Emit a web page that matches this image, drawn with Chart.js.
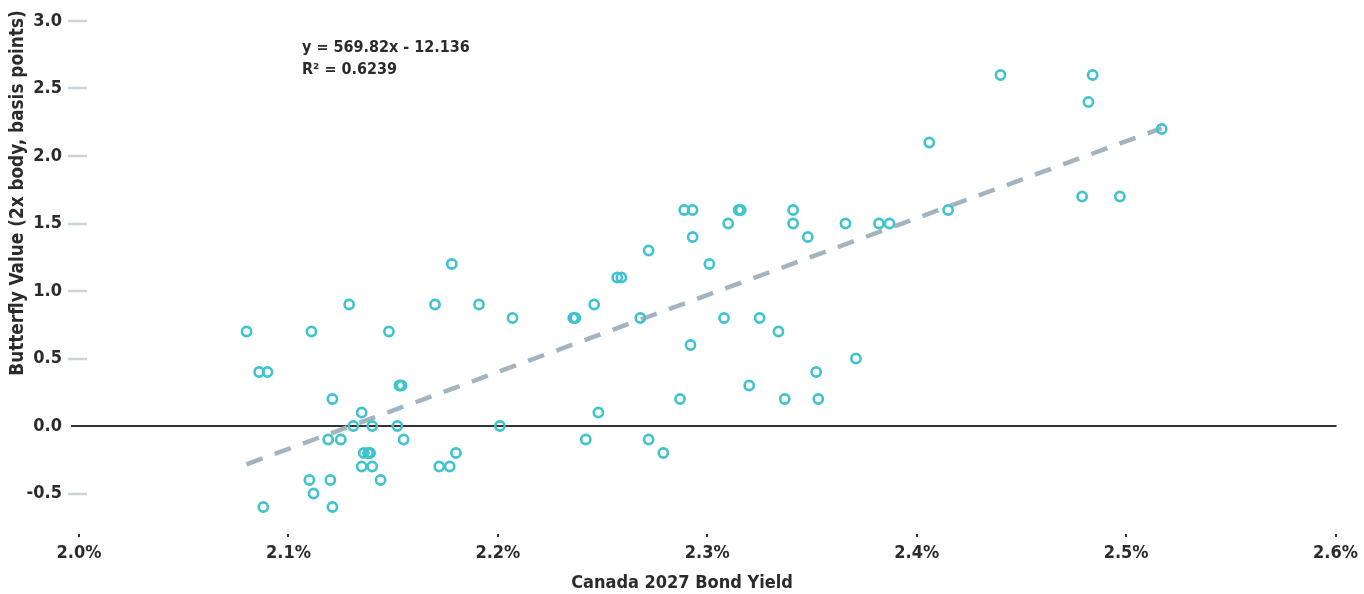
<!DOCTYPE html>
<html>
<head>
<meta charset="utf-8">
<script src="https://cdn.jsdelivr.net/npm/chart.js@4.4.1/dist/chart.umd.min.js"></script>
<style>
  html, body { margin: 0; padding: 0; background: #ffffff; }
  #wrap { width: 1364px; height: 594px; }
</style>
</head>
<body>
<div id="wrap"><canvas id="chart" width="1364" height="594"></canvas></div>
<script>
// Canada 2027 bond yield (%) against butterfly value (bp), one entry per observation
const yieldPct = [
  2.080, 2.086, 2.088, 2.090, 2.110, 2.111, 2.112, 2.119, 2.120, 2.121,
  2.121, 2.125, 2.129, 2.131, 2.135, 2.135, 2.136, 2.138, 2.139, 2.140,
  2.140, 2.144, 2.148, 2.152, 2.153, 2.154, 2.155, 2.170, 2.172, 2.177,
  2.178, 2.180, 2.191, 2.201, 2.207, 2.236, 2.237, 2.242, 2.246, 2.248,
  2.257, 2.259, 2.268, 2.272, 2.272, 2.279, 2.287, 2.289, 2.292, 2.293,
  2.293, 2.301, 2.308, 2.310, 2.315, 2.316, 2.320, 2.325, 2.334, 2.337,
  2.341, 2.341, 2.348, 2.352, 2.353, 2.366, 2.371, 2.382, 2.387, 2.406,
  2.415, 2.440, 2.479, 2.482, 2.484, 2.497, 2.517
];
const butterflyBp = [
   0.7,  0.4, -0.6,  0.4, -0.4,  0.7, -0.5, -0.1, -0.4,  0.2,
  -0.6, -0.1,  0.9,  0.0,  0.1, -0.3, -0.2, -0.2, -0.2,  0.0,
  -0.3, -0.4,  0.7,  0.0,  0.3,  0.3, -0.1,  0.9, -0.3, -0.3,
   1.2, -0.2,  0.9,  0.0,  0.8,  0.8,  0.8, -0.1,  0.9,  0.1,
   1.1,  1.1,  0.8,  1.3, -0.1, -0.2,  0.2,  1.6,  0.6,  1.6,
   1.4,  1.2,  0.8,  1.5,  1.6,  1.6,  0.3,  0.8,  0.7,  0.2,
   1.6,  1.5,  1.4,  0.4,  0.2,  1.5,  0.5,  1.5,  1.5,  2.1,
   1.6,  2.6,  1.7,  2.4,  2.6,  1.7,  2.2
];

// Linear fit reported on the chart (x as a decimal yield)
const fitSlope = 569.82;
const fitIntercept = -12.136;
const fitR2 = '0.6239';

// Axis ranges and titles
const xRange = [2.0, 2.6];
const yRange = [-0.8, 3.0];
const xTitle = 'Canada 2027 Bond Yield';
const yTitle = 'Butterfly Value (2x body, basis points)';

const FONT = "'DejaVu Sans Condensed', 'Liberation Sans', sans-serif";
const TEXT = '#2b2b2b';

const points = yieldPct.map((x, i) => ({ x, y: butterflyBp[i] }));
const xFirst = Math.min(...yieldPct);
const xLast = Math.max(...yieldPct);
const fitAt = x => fitSlope * (x / 100) + fitIntercept;
const fitLine = [{ x: xFirst, y: fitAt(xFirst) }, { x: xLast, y: fitAt(xLast) }];

// Short value-axis marks, the zero baseline, the fit note and the axis titles
const decorations = {
  id: 'decorations',
  beforeDatasetsDraw(chart) {
    const { ctx, chartArea, scales } = chart;
    const y = scales.y;
    ctx.save();
    ctx.lineWidth = 2.5;
    ctx.strokeStyle = '#c8d3db';
    y.ticks.forEach(t => {
      if (t.value === 0) return;
      const py = Math.round(y.getPixelForValue(t.value));
      ctx.beginPath();
      ctx.moveTo(chartArea.left - 11, py);
      ctx.lineTo(chartArea.left + 8, py);
      ctx.stroke();
    });
    const y0 = Math.round(y.getPixelForValue(0));
    ctx.strokeStyle = '#333333';
    ctx.lineWidth = 2;
    ctx.beginPath();
    ctx.moveTo(chartArea.left - 8, y0);
    ctx.lineTo(chartArea.right + 1, y0);
    ctx.stroke();
    ctx.restore();
  },
  afterDraw(chart) {
    const { ctx, chartArea, width, height } = chart;
    ctx.save();
    ctx.fillStyle = TEXT;
    ctx.font = 'bold 16px ' + FONT;
    ctx.textAlign = 'left';
    ctx.textBaseline = 'middle';
    const nx = chartArea.left + 223;
    ctx.fillText('y = ' + fitSlope + 'x - ' + Math.abs(fitIntercept), nx, chartArea.top + 27);
    ctx.fillText('R\u00B2 = ' + fitR2, nx, chartArea.top + 49);

    ctx.font = 'bold 18px ' + FONT;
    ctx.textAlign = 'center';
    ctx.fillText(xTitle, width / 2, height - 11);

    ctx.font = 'bold 18.8px ' + FONT;
    ctx.translate(18, chartArea.top + 172);
    ctx.rotate(-Math.PI / 2);
    ctx.fillText(yTitle, 0, 0);
    ctx.restore();
  }
};

new Chart(document.getElementById('chart'), {
  type: 'scatter',
  data: {
    datasets: [
      {
        label: 'Observations',
        data: points,
        order: 0,
        pointStyle: 'circle',
        pointRadius: 4.6,
        pointBorderWidth: 2.6,
        pointBorderColor: '#3ec3cf',
        pointBackgroundColor: 'rgba(255,255,255,0)',
        borderColor: '#3ec3cf',
        backgroundColor: 'rgba(255,255,255,0)'
      },
      {
        type: 'line',
        label: 'Linear fit',
        data: fitLine,
        order: 1,
        borderColor: '#a3b4c0',
        borderWidth: 4.5,
        borderDash: [17, 13],
        borderCapStyle: 'butt',
        pointRadius: 0,
        fill: false
      }
    ]
  },
  options: {
    responsive: false,
    devicePixelRatio: 1,
    animation: false,
    events: [],
    layout: { padding: { left: 0, right: 28, top: 21, bottom: 0 } },
    plugins: {
      legend: { display: false },
      tooltip: { enabled: false }
    },
    scales: {
      x: {
        type: 'linear',
        position: 'bottom',
        min: xRange[0],
        max: xRange[1],
        afterFit(scale) { scale.height = 60; },
        border: { display: false },
        grid: {
          drawOnChartArea: false,
          drawTicks: true,
          tickLength: 3,
          lineWidth: 2,
          color: '#333333'
        },
        ticks: {
          stepSize: 0.1,
          padding: 6,
          color: TEXT,
          font: { family: FONT, size: 18, weight: 'bold' },
          callback: v => v.toFixed(1) + '%'
        }
      },
      y: {
        type: 'linear',
        min: yRange[0],
        max: yRange[1],
        afterFit(scale) {
          scale.width = 79;
          scale.paddingTop = 0;
          scale.paddingBottom = 0;
        },
        border: { display: false },
        grid: { drawOnChartArea: false, drawTicks: false },
        ticks: {
          stepSize: 0.5,
          includeBounds: false,
          padding: 17,
          color: TEXT,
          font: { family: FONT, size: 18, weight: 'bold' },
          callback: v => v.toFixed(1)
        }
      }
    }
  },
  plugins: [decorations]
});
</script>
</body>
</html>
